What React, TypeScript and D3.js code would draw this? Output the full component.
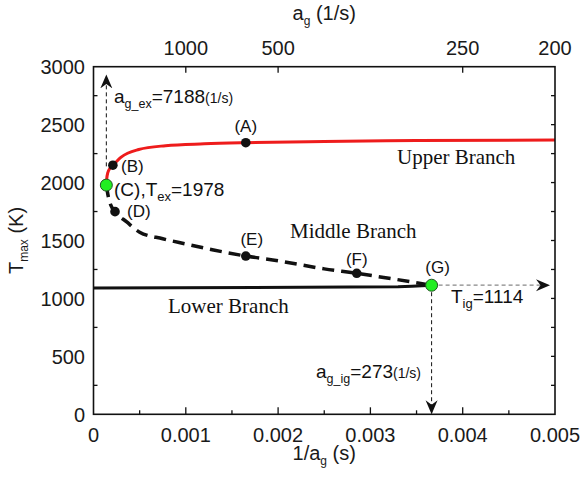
import React from "react";
import * as d3 from "d3";

// Upper (burning) branch: 1/a_g (s) vs T_max (K)
const upperInv = [0.000139, 0.000143, 0.000155, 0.00018, 0.00021, 0.0003, 0.00049, 0.00078, 0.0012, 0.00165, 0.0025, 0.0035, 0.005];
const upperT = [1978, 2030, 2085, 2125, 2150, 2220, 2285, 2318, 2334, 2344, 2355, 2362, 2368];

// Middle (unstable) branch
const middleInv = [0.000139, 0.00016, 0.00019, 0.000233, 0.00036, 0.0005, 0.00075, 0.001, 0.0013, 0.00165, 0.002, 0.0025, 0.002852, 0.0032, 0.003663];
const middleT = [1978, 1880, 1800, 1749, 1660, 1572, 1515, 1470, 1418, 1366, 1325, 1255, 1217, 1174, 1114];

// Lower (non-burning) branch
const lowerInv = [0, 0.0033, 0.00345, 0.003663];
const lowerT = [1090, 1100, 1105, 1114];

// Labelled state points
const pointNames = ["(A)", "(B)", "(D)", "(E)", "(F)"];
const pointInv = [0.00165, 0.00021, 0.000233, 0.00165, 0.002852];
const pointT = [2344, 2150, 1749, 1366, 1217];

// Extinction and ignition points
const agEx = 7188;
const tEx = 1978;
const agIg = 273;
const tIg = 1114;

const xTicks = [0, 0.001, 0.002, 0.003, 0.004, 0.005];
const xTickLabels = ["0", "0.001", "0.002", "0.003", "0.004", "0.005"];
const yTicks = [0, 500, 1000, 1500, 2000, 2500, 3000];
const topTicks = [1000, 500, 250, 200];

const W = 583;
const H = 478;

type Pt = [number, number];

export default function App() {
  const x = d3.scaleLinear().domain([0, 0.005]).range([93.5, 555]);
  const y = d3.scaleLinear().domain([0, 3000]).range([414.3, 66.7]);

  const smooth = d3.line<Pt>().x((d) => x(d[0])).y((d) => y(d[1])).curve(d3.curveMonotoneX);
  const straight = d3.line<Pt>().x((d) => x(d[0])).y((d) => y(d[1]));

  const upperPath = smooth(upperInv.map((v, i) => [v, upperT[i]] as Pt));
  const middlePath = smooth(middleInv.map((v, i) => [v, middleT[i]] as Pt));
  const lowerPath = straight(lowerInv.map((v, i) => [v, lowerT[i]] as Pt));

  const minorX = d3.range(0.0005, 0.005, 0.001);
  const minorY = d3.range(250, 3000, 500);
  const rightY = d3.range(250, 3000, 250);

  const xL = x.range()[0];
  const xR = x.range()[1];
  const yB = y.range()[0];
  const yT = y.range()[1];

  const sans = "'Liberation Sans', Arial, sans-serif";
  const serif = "'Liberation Serif', 'Times New Roman', serif";

  const xEx = x(1 / agEx);
  const xIg = x(1 / agIg);
  const yIg = y(tIg);

  return (
    <svg width={W} height={H} style={{ position: "absolute", left: 0, top: 0, background: "#fff" }}>
      <defs>
        <marker id="arrowHead" viewBox="0 0 14 14" refX="13" refY="7" markerWidth="14" markerHeight="14" markerUnits="userSpaceOnUse" orient="auto">
          <path d="M0,1 L14,7 L0,13 L4.5,7 Z" fill="#111" />
        </marker>
      </defs>

      {/* curves */}
      <path d={upperPath || ""} fill="none" stroke="#ee1c1c" strokeWidth={3} />
      <path d={lowerPath || ""} fill="none" stroke="#111" strokeWidth={3} />
      <path d={middlePath || ""} fill="none" stroke="#111" strokeWidth={3.5} strokeDasharray="12 7" />

      {/* guide arrows */}
      <line x1={xEx} x2={xEx} y1={y(2140)} y2={y(2925)} stroke="#111" strokeWidth={1} strokeDasharray="4 3" markerEnd="url(#arrowHead)" />
      <line x1={xIg} x2={xR - 6} y1={yIg} y2={yIg} stroke="#888" strokeWidth={1.2} strokeDasharray="4 3" markerEnd="url(#arrowHead)" />
      <line x1={xIg} x2={xIg} y1={yIg} y2={yB - 1} stroke="#111" strokeWidth={1} strokeDasharray="4 3" markerEnd="url(#arrowHead)" />

      {/* state points */}
      {pointInv.map((v, i) => (
        <circle key={pointNames[i]} cx={x(v)} cy={y(pointT[i])} r={4.8} fill="#111" />
      ))}
      <circle cx={xEx} cy={y(tEx)} r={6} fill="#22ee22" stroke="#225522" strokeWidth={1} />
      <circle cx={xIg} cy={yIg} r={6} fill="#22ee22" stroke="#225522" strokeWidth={1} />

      {/* point labels */}
      <g fontFamily={sans} fontSize={17} fill="#111">
        <text x={x(pointInv[0])} y={132} textAnchor="middle">(A)</text>
        <text x={121} y={172}>(B)</text>
        <text x={127} y={217}>(D)</text>
        <text x={x(pointInv[3]) + 6} y={245} textAnchor="middle">(E)</text>
        <text x={x(pointInv[4])} y={265} textAnchor="middle">(F)</text>
        <text x={xIg + 6} y={273} textAnchor="middle">(G)</text>
      </g>

      {/* annotations */}
      <g fontFamily={sans} fill="#111">
        <text x={114} y={196} fontSize={19}>
          (C),T<tspan fontSize={13} dy={5}>ex</tspan>
          <tspan dy={-5}>=1978</tspan>
        </text>
        <text x={114} y={103} fontSize={19}>
          a<tspan fontSize={12.5} dy={5}>g_ex</tspan>
          <tspan dy={-5}>=7188</tspan>
          <tspan fontSize={14}>(1/s)</tspan>
        </text>
        <text x={451} y={303} fontSize={19}>
          T<tspan fontSize={13} dy={5}>ig</tspan>
          <tspan dy={-5}>=1114</tspan>
        </text>
        <text x={316} y={378} fontSize={19}>
          a<tspan fontSize={12.5} dy={5}>g_ig</tspan>
          <tspan dy={-5}>=273</tspan>
          <tspan fontSize={14}>(1/s)</tspan>
        </text>
      </g>

      <g fontFamily={serif} fontSize={21} fill="#111">
        <text x={397} y={164}>Upper Branch</text>
        <text x={290} y={238}>Middle Branch</text>
        <text x={168} y={313}>Lower Branch</text>
      </g>

      {/* frame */}
      <rect x={xL} y={yT} width={xR - xL} height={yB - yT} fill="none" stroke="#111" strokeWidth={1.6} />

      {/* bottom ticks */}
      {xTicks.slice(1, -1).map((t) => (
        <line key={"bx" + t} x1={x(t)} x2={x(t)} y1={yB} y2={yB - 7} stroke="#111" strokeWidth={1.3} />
      ))}
      {minorX.map((t) => (
        <line key={"bm" + t} x1={x(t)} x2={x(t)} y1={yB} y2={yB - 4} stroke="#111" strokeWidth={1.3} />
      ))}
      {/* left minor ticks */}
      {minorY.map((t) => (
        <line key={"lm" + t} x1={xL} x2={xL + 4} y1={y(t)} y2={y(t)} stroke="#111" strokeWidth={1.3} />
      ))}
      {/* right ticks */}
      {rightY.map((t) => (
        <line key={"rt" + t} x1={xR} x2={xR - 4} y1={y(t)} y2={y(t)} stroke="#111" strokeWidth={1.3} />
      ))}
      {/* top ticks (strain rate) */}
      {topTicks.slice(0, -1).map((a) => (
        <line key={"tt" + a} x1={x(1 / a)} x2={x(1 / a)} y1={yT} y2={yT + 6} stroke="#111" strokeWidth={1.3} />
      ))}

      {/* tick labels */}
      <g fontFamily={sans} fontSize={20} fill="#1a1a1a">
        {xTicks.map((t, i) => (
          <text key={"xl" + t} x={x(t)} y={442} textAnchor="middle">{xTickLabels[i]}</text>
        ))}
        {yTicks.map((t) => (
          <text key={"yl" + t} x={85} y={y(t) + 7.5} textAnchor="end">{t}</text>
        ))}
        {topTicks.map((a) => (
          <text key={"tl" + a} x={x(1 / a)} y={55} textAnchor="middle">{a}</text>
        ))}
      </g>

      {/* axis titles */}
      <g fontFamily={sans} fontSize={20} fill="#1a1a1a">
        <text x={x(0.0025)} y={460} textAnchor="middle">
          1/a<tspan fontSize={12} dy={5}>g</tspan>
          <tspan dy={-5}> (s)</tspan>
        </text>
        <text x={x(0.0025)} y={20} textAnchor="middle">
          a<tspan fontSize={12} dy={5}>g</tspan>
          <tspan dy={-5}> (1/s)</tspan>
        </text>
        <text transform={`translate(23,${(yT + yB) / 2}) rotate(-90)`} textAnchor="middle">
          T<tspan fontSize={12} dy={5}>max</tspan>
          <tspan dy={-5}> (K)</tspan>
        </text>
      </g>
    </svg>
  );
}
